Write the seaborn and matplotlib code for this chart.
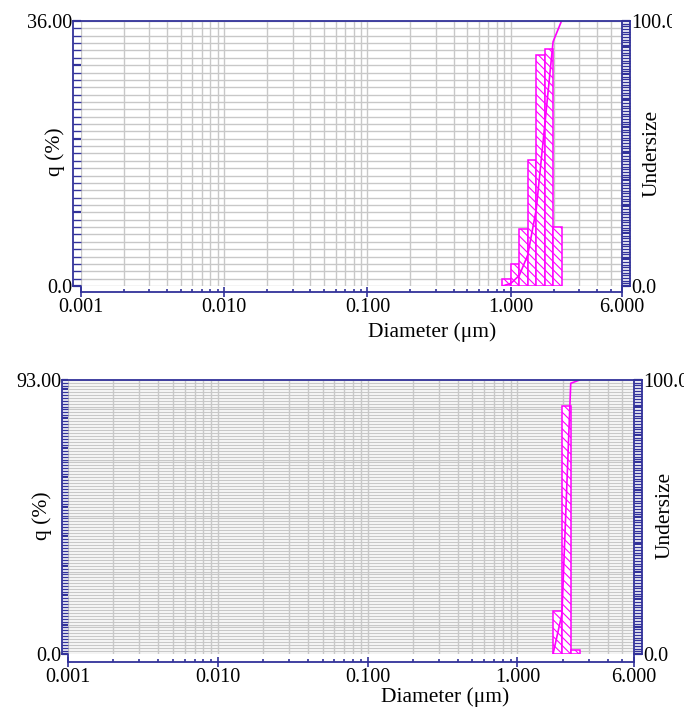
import numpy as np
import pandas as pd
import matplotlib
matplotlib.use("Agg")
import matplotlib.pyplot as plt
from matplotlib.lines import Line2D
from matplotlib.ticker import NullFormatter
from matplotlib.transforms import Bbox
import seaborn as sns

# Size classes (µm) and frequency / cumulative distributions, sample A
edges_a = [0.877, 1.005, 1.151, 1.318, 1.510, 1.729, 1.981, 2.269]
q_a = [1.0, 3.0, 7.7, 17.1, 31.4, 32.2, 8.0]
undersize_a = [0.0, 1.0, 4.0, 11.7, 28.8, 60.2, 92.2, 100.0]

# Sample B
edges_b = [1.729, 1.981, 2.269, 2.599]
q_b = [14.5, 84.3, 1.2]
undersize_b = [0.0, 14.5, 98.8, 100.0]

x_ticks = [0.001, 0.01, 0.1, 1.0, 6.0]
x_ticklabels = ["0.001", "0.010", "0.100", "1.000", "6.000"]
x_minor = [k * 10.0 ** n for n in range(-3, 1) for k in range(2, 10) if k * 10.0 ** n < 6.0]

q_max_a, q_top_label_a = 36.0, "36.00"
q_max_b, q_top_label_b = 93.0, "93.00"

MAG = "#ff00ff"
NAVY = "#32329a"
GRID = "#c8c8c8"
PX = 0.72  # points per pixel at 100 dpi

W, H = 687, 713
fig = plt.figure(figsize=(W / 100, H / 100), dpi=100)
plt.rcParams["font.family"] = ["Liberation Serif", "DejaVu Serif"]
plt.rcParams["hatch.linewidth"] = 0.8

TICK_FS = 14.5
LABEL_FS = 15.5


def fx(x):
    return x / W


def fy(y):
    return 1 - y / H


def frame_line(xs, ys):
    fig.add_artist(Line2D([fx(v) for v in xs], [fy(v) for v in ys],
                          transform=fig.transFigure, color=NAVY, lw=1.3,
                          solid_capstyle="projecting"))


def panel(box, offs, edges, q, under, qmax, qtop, clip_x, xlab_xy, qlab_xy, ulab_xy):
    x0, yt, x1, yb = box
    oL, oB, oR = offs
    ax = fig.add_axes([fx(x0), fy(yb), (x1 - x0) / W, (yb - yt) / H])
    ax.set_xscale("log")
    ax.set_xlim(0.001, 6.0)
    ax.set_ylim(0, qmax)
    ax.set_axisbelow(True)

    bins_df = pd.DataFrame({
        "diameter": np.sqrt(np.array(edges[:-1]) * np.array(edges[1:])),
        "q": q,
    })
    log_edges = [float(v) for v in np.log10(edges)]
    sns.histplot(data=bins_df, x="diameter", weights="q", bins=log_edges, ax=ax,
                 element="bars", fill=True, facecolor="white",
                 edgecolor=MAG, linewidth=1.1)
    for p in ax.patches:
        p.set_hatch("\\\\\\\\")
        p.set_edgecolor(MAG)
        p.set_zorder(3)
    ax.set_xlim(0.001, 6.0)
    ax.set_ylim(0, qmax)
    ax.set_xlabel("")
    ax.set_ylabel("")

    # x axis: log decades with every 1..9 subdivision
    ax.set_xticks(x_ticks, x_ticklabels)
    ax.set_xticks(x_minor, minor=True)
    ax.xaxis.set_minor_formatter(NullFormatter())
    yt_major = list(range(0, int(qmax) + 1, 10)) + [qmax]
    ax.set_yticks(yt_major, ["0.0"] + [""] * (len(yt_major) - 2) + [qtop])
    ax.set_yticks(np.arange(0, qmax + 0.5, 1.0), minor=True)
    ax.grid(which="both", axis="both", color=GRID, linewidth=1.0)

    for s in ["top", "right"]:
        ax.spines[s].set_visible(False)
    ax.spines["left"].set_position(("outward", oL * PX))
    ax.spines["bottom"].set_position(("outward", oB * PX))
    for s in ["left", "bottom"]:
        ax.spines[s].set_color(NAVY)
        ax.spines[s].set_linewidth(1.3)

    ax.tick_params(axis="x", which="major", direction="inout", length=10 * PX,
                   width=1.2, color=NAVY, labelsize=TICK_FS, pad=1.0)
    ax.tick_params(axis="x", which="minor", direction="in", length=3 * PX,
                   width=1.2, color=NAVY)
    ax.tick_params(axis="y", which="major", direction="in", length=oL * PX,
                   width=1.6, color=NAVY, labelsize=TICK_FS, pad=0.6)
    ax.tick_params(axis="y", which="minor", direction="in", length=oL * PX,
                   width=1.0, color=NAVY)

    # Cumulative undersize on the secondary axis
    ax2 = ax.twinx()
    under_df = pd.DataFrame({"diameter": edges, "undersize": under})
    sns.lineplot(data=under_df, x="diameter", y="undersize", ax=ax2,
                 color=MAG, linewidth=1.2)
    ax2.set_ylim(0, 100)
    ax2.set_ylabel("")
    ax2.set_yticks(range(0, 101, 10), ["0.0"] + [""] * 9 + ["100.0"])
    ax2.set_yticks(range(0, 101, 1), minor=True)
    for s in ["top", "left", "bottom"]:
        ax2.spines[s].set_visible(False)
    ax2.spines["right"].set_position(("outward", oR * PX))
    ax2.spines["right"].set_color(NAVY)
    ax2.spines["right"].set_linewidth(1.3)
    ax2.tick_params(axis="y", which="major", direction="in", length=oR * PX,
                    width=1.6, color=NAVY, labelsize=TICK_FS, pad=0.6)
    ax2.tick_params(axis="y", which="minor", direction="in", length=oR * PX,
                    width=1.0, color=NAVY)
    clip = Bbox([[0, 0], [clip_x, H]])
    for lab in ax2.get_yticklabels():
        lab.set_clip_box(clip)
        lab.set_clip_on(True)

    # Remaining pieces of the frame
    frame_line([x0 - oL, x1 + oR], [yt, yt])
    frame_line([x0 - oL, x0, x0], [yb, yb, yb + oB])
    frame_line([x1, x1], [yt, yb + oB])
    frame_line([x1 + oR, x1], [yb, yb])

    fig.text(fx(xlab_xy[0]), fy(xlab_xy[1]), "Diameter (μm)", ha="center",
             va="center", fontsize=LABEL_FS)
    fig.text(fx(qlab_xy[0]), fy(qlab_xy[1]), "q (%)", rotation=90, ha="center",
             va="center", fontsize=LABEL_FS)
    fig.text(fx(ulab_xy[0]), fy(ulab_xy[1]), "Undersize", rotation=90, ha="center",
             va="center", fontsize=LABEL_FS)
    return ax, ax2


panel((81, 21, 622, 286), (8, 6, 8), edges_a, q_a, undersize_a, q_max_a,
      q_top_label_a, 672, (432, 332), (55, 152), (652, 153))
panel((68, 380, 634, 654), (6, 8, 8), edges_b, q_b, undersize_b, q_max_b,
      q_top_label_b, 684, (445, 697), (42, 516), (665, 515))

fig.savefig("out.png", dpi=100, facecolor="white")
